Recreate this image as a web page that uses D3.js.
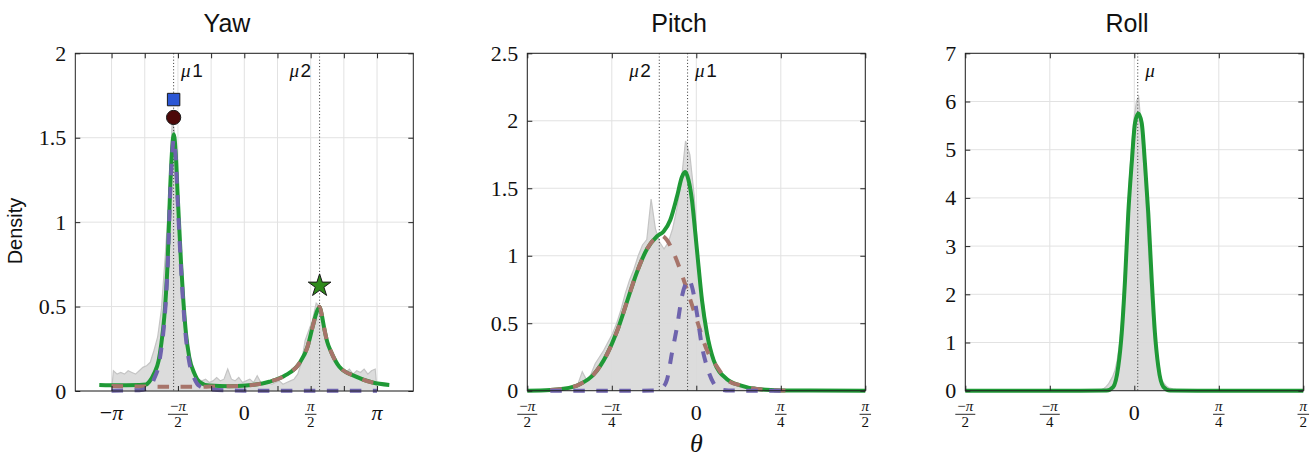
<!DOCTYPE html>
<html>
<head>
<meta charset="utf-8">
<script src="https://cdn.jsdelivr.net/npm/d3@7"></script>
<style>
body { margin: 0; background: #fff; }
</style>
</head>
<body>
<script>
var PI = Math.PI;

// ---------- data ----------
// Yaw: histogram, 72 bins of 5 degrees from -pi to pi
var yawHistRange = [-PI, PI];
var yawHist = [0.12, 0.10, 0.11, 0.10, 0.12, 0.11, 0.10, 0.12, 0.14, 0.15, 0.17, 0.24,
               0.32, 0.48, 0.78, 1.12, 1.62, 1.45, 0.90, 0.56, 0.32, 0.17, 0.10, 0.07,
               0.06, 0.07, 0.05, 0.06, 0.08, 0.06, 0.07, 0.13, 0.07, 0.06, 0.08, 0.05,
               0.06, 0.07, 0.05, 0.09, 0.05, 0.04, 0.05, 0.04, 0.05, 0.06, 0.04, 0.05,
               0.06, 0.07, 0.10, 0.17, 0.30, 0.36, 0.42, 0.52, 0.50, 0.38, 0.30, 0.24,
               0.19, 0.15, 0.12, 0.11, 0.13, 0.10, 0.12, 0.11, 0.13, 0.10, 0.12, 0.13];
var yawMix = [[-3.432, 0.036], [-2.959, 0.034], [-2.485, 0.035], [-2.327, 0.038], [-2.249, 0.055],
              [-2.130, 0.106], [-2.028, 0.18], [-1.964, 0.28], [-1.893, 0.44], [-1.853, 0.58],
              [-1.815, 0.76], [-1.759, 1.17], [-1.716, 1.40], [-1.669, 1.52], [-1.621, 1.40],
              [-1.579, 1.17], [-1.498, 0.76], [-1.444, 0.54], [-1.380, 0.34], [-1.302, 0.20],
              [-1.183, 0.105], [-1.065, 0.055], [-0.828, 0.032], [-0.355, 0.028], [0.040, 0.032],
              [0.592, 0.055], [0.987, 0.095], [1.302, 0.164], [1.498, 0.263], [1.617, 0.38],
              [1.704, 0.46], [1.782, 0.499], [1.834, 0.45], [1.893, 0.37], [1.964, 0.29],
              [2.052, 0.233], [2.249, 0.144], [2.644, 0.085], [3.037, 0.05], [3.432, 0.036]];
var yawComp2 = [[-PI, 0.029], [-2.485, 0.027], [-1.669, 0.025], [-1.065, 0.025], [-0.828, 0.026],
                [-0.355, 0.028], [0.040, 0.032], [0.592, 0.055], [0.987, 0.095], [1.302, 0.164],
                [1.498, 0.263], [1.617, 0.38], [1.704, 0.46], [1.782, 0.499], [1.834, 0.45],
                [1.893, 0.37], [1.964, 0.29], [2.052, 0.233], [2.249, 0.144], [2.644, 0.085],
                [3.037, 0.05], [PI, 0.046]];
var yawComp1 = [[-PI, 0.002], [-2.485, 0.005], [-2.249, 0.02], [-2.130, 0.075], [-2.028, 0.15],
                [-1.964, 0.25], [-1.893, 0.41], [-1.853, 0.55], [-1.815, 0.73], [-1.759, 1.14],
                [-1.716, 1.37], [-1.669, 1.49], [-1.621, 1.37], [-1.579, 1.14], [-1.498, 0.73],
                [-1.444, 0.51], [-1.380, 0.31], [-1.302, 0.17], [-1.183, 0.075], [-1.065, 0.03],
                [-0.828, 0.01], [-0.355, 0.003], [0.5, 0.001], [PI, 0.001]];
var yawMu = [-1.673, 1.782];
var yawMuNames = ["1", "2"];
var yawMarkX = [-1.673, -1.673, 1.782];
var yawMarkY = [1.726, 1.62, 0.623];

// Pitch: histogram, 48 bins of 0.04 rad from -1.20 to 0.72
var pitchHistRange = [-1.20, 0.72];
var pitchHist = [0.02, 0.03, 0.05, 0.14, 0.08, 0.12, 0.20, 0.25, 0.30, 0.36, 0.42, 0.50,
                 0.60, 0.72, 0.82, 0.90, 1.00, 1.08, 1.12, 1.42, 1.20, 1.10, 1.05, 1.10,
                 1.20, 1.35, 1.55, 1.85, 1.75, 1.45, 0.95, 0.68, 0.45, 0.30, 0.20, 0.14,
                 0.10, 0.08, 0.06, 0.05, 0.04, 0.03, 0.02, 0.03, 0.015, 0.02, 0.01, 0.01];
var pitchMix = [[-PI / 2, 0], [-1.357, 0.005], [-1.140, 0.03], [-1.078, 0.05], [-0.954, 0.12],
                [-0.830, 0.27], [-0.737, 0.44], [-0.644, 0.66], [-0.551, 0.88], [-0.458, 1.05],
                [-0.365, 1.145], [-0.304, 1.18], [-0.242, 1.265], [-0.179, 1.44], [-0.133, 1.585],
                [-0.102, 1.62], [-0.072, 1.56], [-0.040, 1.41], [-0.009, 1.166], [0.021, 0.92],
                [0.053, 0.67], [0.099, 0.425], [0.161, 0.227], [0.285, 0.085], [0.409, 0.04],
                [0.564, 0.012], [0.781, 0.002], [PI / 2, 0]];
var pitchComp2 = [[-1.357, 0.005], [-1.140, 0.03], [-1.078, 0.05], [-0.954, 0.12], [-0.830, 0.27],
                  [-0.737, 0.44], [-0.644, 0.66], [-0.551, 0.88], [-0.458, 1.05], [-0.365, 1.14],
                  [-0.330, 1.15], [-0.273, 1.117], [-0.210, 1.02], [-0.087, 0.75], [0.0065, 0.52],
                  [0.099, 0.30], [0.192, 0.178], [0.285, 0.08], [0.409, 0.04], [0.564, 0.012],
                  [0.781, 0.002], [0.89, 0.001]];
var pitchComp1 = [[-1.357, 0], [-0.6, 0], [-0.40, 0.002], [-0.32, 0.02], [-0.273, 0.08],
                  [-0.227, 0.277], [-0.179, 0.474], [-0.133, 0.70], [-0.087, 0.81], [-0.070, 0.825],
                  [-0.040, 0.77], [0.0065, 0.57], [0.053, 0.326], [0.099, 0.178], [0.161, 0.055],
                  [0.223, 0.01], [0.3, 0.001], [0.89, 0]];
var pitchMu = [-0.081, -0.344];
var pitchMuNames = ["1", "2"];

// Roll: histogram, 42 bins of 0.02 rad from -0.37 to 0.47
var rollHistRange = [-0.37, 0.47];
var rollHist = [0.01, 0.015, 0.02, 0.03, 0.05, 0.09, 0.14, 0.22, 0.30, 0.42, 0.62, 0.92,
                1.4, 2.1, 2.9, 3.8, 4.6, 5.2, 5.7, 6.0, 6.1, 5.6, 5.0, 4.3,
                3.4, 2.6, 1.8, 1.2, 0.78, 0.48, 0.30, 0.20, 0.14, 0.09, 0.06, 0.05,
                0.035, 0.03, 0.02, 0.015, 0.01, 0.01];
var rollFit = [[-PI / 2, 0], [-0.5, 0], [-0.257, 0.005], [-0.195, 0.08], [-0.149, 0.5],
               [-0.117, 1.19], [-0.086, 2.3], [-0.056, 3.68], [-0.024, 4.72], [0.0065, 5.55],
               [0.037, 5.75], [0.069, 5.55], [0.099, 4.72], [0.130, 3.68], [0.162, 2.3],
               [0.192, 1.19], [0.223, 0.5], [0.270, 0.08], [0.332, 0.005], [0.6, 0], [PI / 2, 0]];
var rollMu = [0.032];
var rollMuNames = [""];

// ticks
var yawXTicks = [-PI, -PI / 2, 0, PI / 2, PI];
var yawXLabels = ["−π", "−π/2", "0", "π/2", "π"];
var yawGridX = [-PI, -3 * PI / 4, -PI / 2, -PI / 4, 0, PI / 4, PI / 2, 3 * PI / 4, PI];
var halfXTicks = [-PI / 2, -PI / 4, 0, PI / 4, PI / 2];
var halfXLabels = ["−π/2", "−π/4", "0", "π/4", "π/2"];
var yawYTicks = [0, 0.5, 1, 1.5, 2];
var pitchYTicks = [0, 0.5, 1, 1.5, 2, 2.5];
var rollYTicks = [0, 1, 2, 3, 4, 5, 6, 7];

// ---------- styles ----------
var GREEN = "#1f9936", BROWN = "#a7746a", PURPLE = "#6e63ad";
var SERIF = "Liberation Serif";
var SANS = "Liberation Sans";

var svg = d3.select("body").append("svg")
    .attr("width", 1315).attr("height", 457)
    .attr("font-family", SANS);

var panels = [
  { title: "Yaw", titleX: 227, left: 75.3, right: 413.3, top: 53.3, bottom: 391,
    xDom: [-4, 4], yDom: [0, 2], yTicks: yawYTicks, xTicks: yawXTicks, xLabels: yawXLabels,
    tickX: yawGridX, gridX: yawGridX, hist: yawHist, histRange: yawHistRange,
    mix: yawMix, comp2: yawComp2, comp1: yawComp1, mu: yawMu, muNames: yawMuNames,
    muSide: [1, -1], markers: true },
  { title: "Pitch", titleX: 679, left: 527.3, right: 865.3, top: 53.3, bottom: 390.7,
    xDom: [-PI / 2, PI / 2], yDom: [0, 2.5], yTicks: pitchYTicks, xTicks: halfXTicks, xLabels: halfXLabels,
    tickX: halfXTicks, gridX: halfXTicks, hist: pitchHist, histRange: pitchHistRange,
    mix: pitchMix, comp2: pitchComp2, comp1: pitchComp1, mu: pitchMu, muNames: pitchMuNames,
    muSide: [1, -1], xlabel: true },
  { title: "Roll", titleX: 1127, left: 965.3, right: 1303.3, top: 53.3, bottom: 390.7,
    xDom: [-PI / 2, PI / 2], yDom: [0, 7], yTicks: rollYTicks, xTicks: halfXTicks, xLabels: halfXLabels,
    tickX: halfXTicks, gridX: halfXTicks, hist: rollHist, histRange: rollHistRange,
    mix: rollFit, mu: rollMu, muNames: rollMuNames, muSide: [1] }
];

function texText(sel, str) {
  for (var ch of str) {
    sel.append("tspan").attr("font-style", ch === "π" ? "italic" : "normal").text(ch);
  }
}

panels.forEach(function (p) {
  var x = d3.scaleLinear().domain(p.xDom).range([p.left, p.right]);
  var y = d3.scaleLinear().domain(p.yDom).range([p.bottom, p.top]);
  var g = svg.append("g");

  // grid
  g.selectAll("line.gx").data(p.gridX).enter().append("line")
    .attr("x1", function (d) { return x(d); }).attr("x2", function (d) { return x(d); })
    .attr("y1", p.top).attr("y2", p.bottom)
    .attr("stroke", "#e2e2e2").attr("stroke-width", 1);
  g.selectAll("line.gy").data(p.yTicks).enter().append("line")
    .attr("x1", p.left).attr("x2", p.right)
    .attr("y1", function (d) { return y(d); }).attr("y2", function (d) { return y(d); })
    .attr("stroke", "#e2e2e2").attr("stroke-width", 1);

  // histogram (bin centres joined)
  var bw = (p.histRange[1] - p.histRange[0]) / p.hist.length;
  var hpts = p.hist.map(function (v, i) { return [p.histRange[0] + (i + 0.5) * bw, v]; });
  var hpath = [[p.histRange[0], 0]].concat(hpts, [[p.histRange[1], 0]]);
  g.append("path").datum(hpath)
    .attr("d", d3.line().x(function (d) { return x(d[0]); }).y(function (d) { return y(d[1]); }))
    .attr("fill", "#d9d9d9").attr("fill-opacity", 0.92)
    .attr("stroke", "#c4c4c4").attr("stroke-width", 1.2);

  // mu lines
  g.selectAll("line.mu").data(p.mu).enter().append("line")
    .attr("x1", function (d) { return x(d); }).attr("x2", function (d) { return x(d); })
    .attr("y1", p.top).attr("y2", p.bottom)
    .attr("stroke", "#333").attr("stroke-width", 1).attr("stroke-dasharray", "1,2.2");
  p.mu.forEach(function (m, i) {
    var side = p.muSide[i];
    var t = g.append("text")
      .attr("x", x(m) + (side > 0 ? 7.5 : -8.5)).attr("y", 77)
      .attr("text-anchor", side > 0 ? "start" : "end")
      .attr("font-size", 19).attr("fill", "#111");
    t.append("tspan").attr("font-family", SERIF).attr("font-style", "italic").text("μ");
    if (p.muNames[i]) t.append("tspan").attr("dx", 1.5).text(p.muNames[i]);
  });

  var line = d3.line().curve(d3.curveMonotoneX)
    .x(function (d) { return x(d[0]); }).y(function (d) { return y(d[1]); });

  g.append("path").datum(p.mix).attr("d", line)
    .attr("fill", "none").attr("stroke", GREEN).attr("stroke-width", 4);
  if (p.comp2) g.append("path").datum(p.comp2).attr("d", line)
    .attr("fill", "none").attr("stroke", BROWN).attr("stroke-width", 4).attr("stroke-dasharray", "11.5,11.5");
  if (p.comp1) g.append("path").datum(p.comp1).attr("d", line)
    .attr("fill", "none").attr("stroke", PURPLE).attr("stroke-width", 4).attr("stroke-dasharray", "11.5,11.5");

  if (p.markers) {
    var shapes = [d3.symbolSquare, d3.symbolCircle, d3.symbolStar];
    var sizes = [155, 160, 160];
    var fills = ["#2b56d4", "#4c0808", "#2f8a1c"];
    yawMarkX.forEach(function (mx, i) {
      g.append("path")
        .attr("transform", "translate(" + x(mx) + "," + y(yawMarkY[i]) + ")")
        .attr("d", d3.symbol().type(shapes[i]).size(sizes[i])())
        .attr("fill", fills[i]).attr("stroke", "#1a1a1a").attr("stroke-width", 1);
    });
  }

  // box + inward ticks
  var ax = function (a) {
    return a.tickSizeInner(-5).tickSizeOuter(0);
  };
  var fmt = d3.format("~g");
  g.append("g").attr("transform", "translate(0," + p.bottom + ")")
    .call(ax(d3.axisBottom(x).tickValues(p.tickX).tickFormat("")));
  g.append("g").attr("transform", "translate(0," + p.top + ")")
    .call(ax(d3.axisTop(x).tickValues(p.tickX).tickFormat("")));
  g.append("g").attr("transform", "translate(" + p.right + ",0)")
    .call(ax(d3.axisRight(y).tickValues(p.yTicks).tickFormat("")));
  var yl = g.append("g").attr("transform", "translate(" + p.left + ",0)")
    .call(ax(d3.axisLeft(y).tickValues(p.yTicks).tickFormat(fmt)).tickPadding(9));
  yl.attr("font-family", SERIF).attr("font-size", 22);
  yl.selectAll("text").attr("fill", "#111");
  g.selectAll(".domain").remove();
  g.selectAll(".tick line").attr("stroke", "#222");
  g.append("rect")
    .attr("x", p.left).attr("y", p.top)
    .attr("width", p.right - p.left).attr("height", p.bottom - p.top)
    .attr("fill", "none").attr("stroke", "#222").attr("stroke-width", 1);

  // x tick labels (fractions of pi)
  p.xTicks.forEach(function (v, i) {
    var lab = p.xLabels[i], cx = x(v);
    if (lab.indexOf("/") >= 0) {
      var parts = lab.split("/");
      var num = g.append("text").attr("x", cx).attr("y", 411).attr("text-anchor", "middle")
        .attr("font-family", SERIF).attr("font-size", 15).attr("fill", "#111");
      texText(num, parts[0]);
      var w = num.node().getComputedTextLength() + 4;
      g.append("line").attr("x1", cx - w / 2).attr("x2", cx + w / 2)
        .attr("y1", 414.3).attr("y2", 414.3).attr("stroke", "#111").attr("stroke-width", 0.9);
      g.append("text").attr("x", cx).attr("y", 427).attr("text-anchor", "middle")
        .attr("font-family", SERIF).attr("font-size", 15).attr("fill", "#111")
        .text(parts[1]);
    } else {
      var t = g.append("text").attr("x", cx).attr("y", 420).attr("text-anchor", "middle")
        .attr("font-family", SERIF).attr("font-size", 22).attr("fill", "#111");
      texText(t, lab);
    }
  });

  // title
  g.append("text").attr("x", p.titleX).attr("y", 32).attr("text-anchor", "middle")
    .attr("font-size", 25).attr("fill", "#111").text(p.title);

  if (p.xlabel) {
    g.append("text").attr("x", (p.left + p.right) / 2).attr("y", 452).attr("text-anchor", "middle")
      .attr("font-family", SERIF).attr("font-style", "italic").attr("font-size", 26)
      .attr("fill", "#111").text("θ");
  }
});

svg.append("text")
  .attr("transform", "translate(22,231) rotate(-90)")
  .attr("text-anchor", "middle").attr("font-size", 20).attr("fill", "#111")
  .text("Density");
</script>
</body>
</html>
